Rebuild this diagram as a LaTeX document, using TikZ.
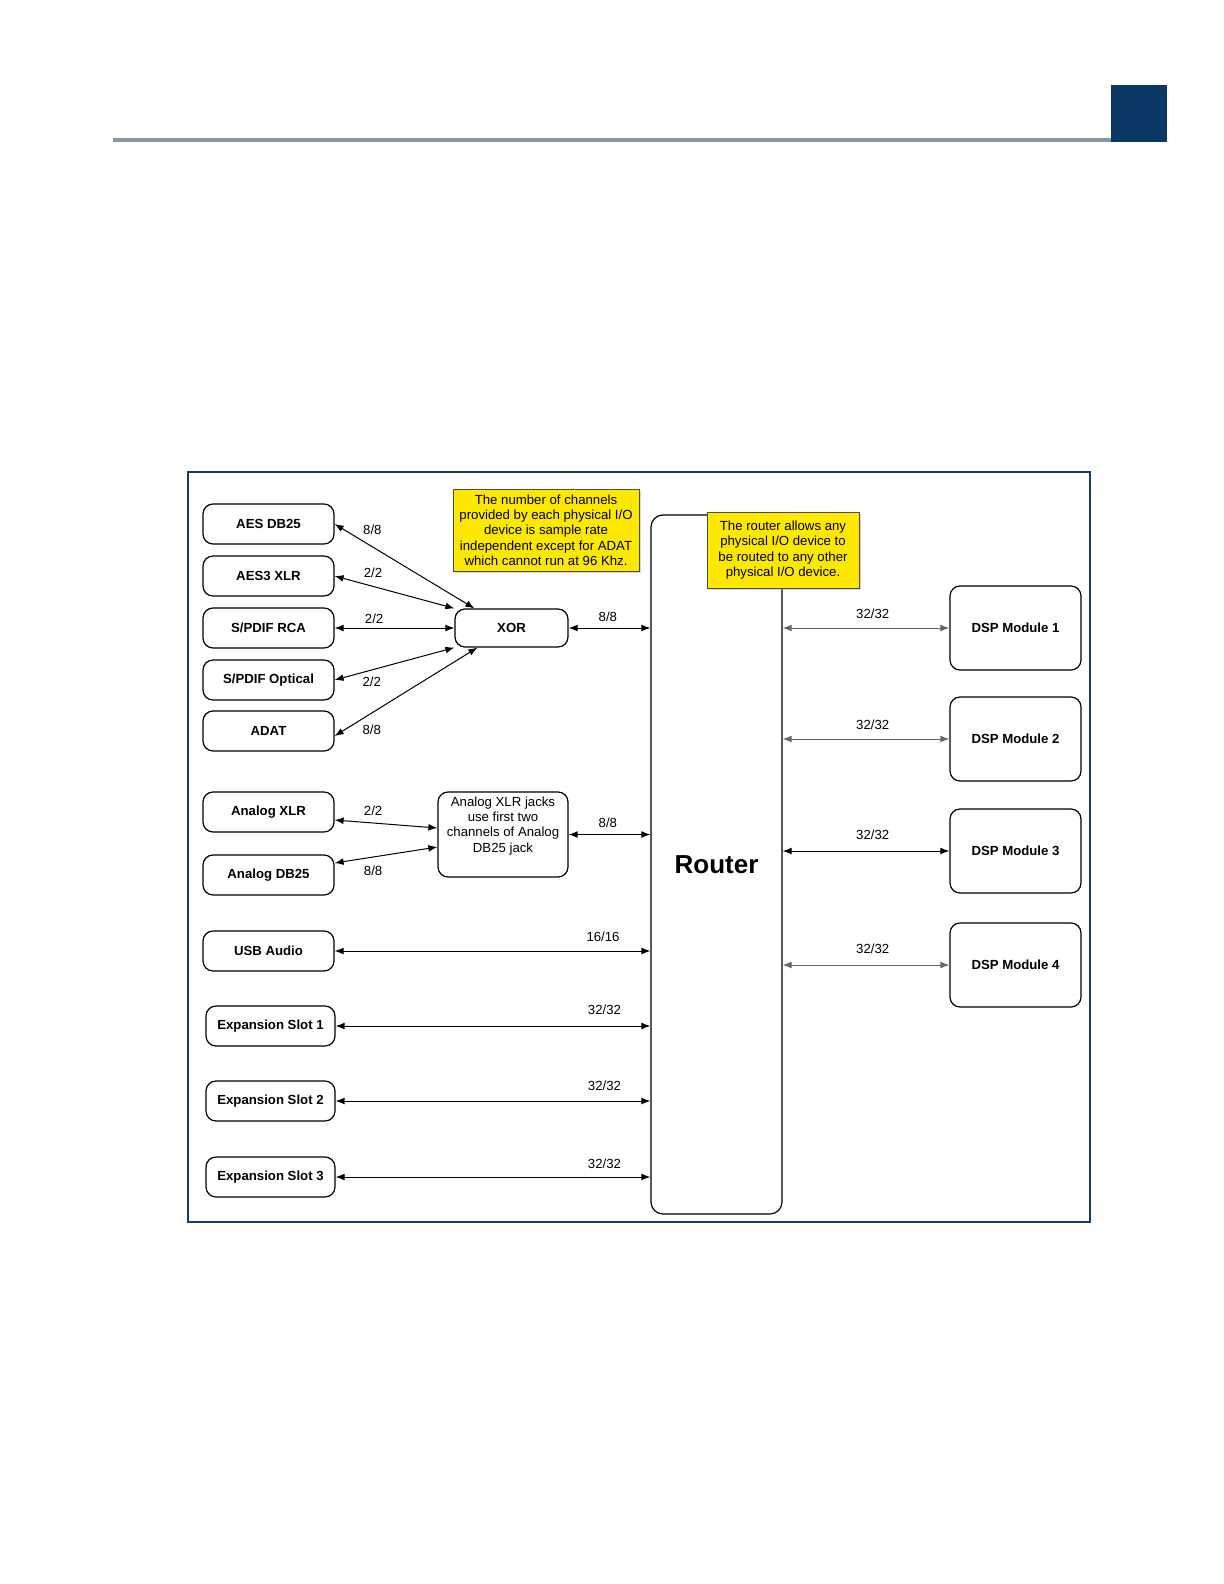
\documentclass[tikz,border=0pt]{standalone}
\usepackage{fontspec}
\setmainfont{Liberation Sans}
\usepackage{tikz}
\usetikzlibrary{arrows.meta,positioning,calc,shadows}
\definecolor{noteyellow}{RGB}{255,232,0}
\definecolor{framenavy}{RGB}{24,60,100}
\definecolor{headnavy}{RGB}{10,55,100}
\definecolor{headgray}{RGB}{128,152,172}

\begin{document}
\begin{tikzpicture}[
  x=0.5pt, y=-0.5pt,
  dev/.style={draw, line width=0.6pt, rounded corners=5pt, minimum width=65.5pt, minimum height=20pt, inner sep=0pt, align=center, font=\fontsize{6.6}{7.6}\selectfont\bfseries},
  dsp/.style={dev, minimum height=42pt},
  note/.style={draw=black!70, fill=noteyellow, inner sep=0pt, align=center, font=\fontsize{6.6}{7.65}\selectfont, drop shadow={shadow xshift=1.2pt, shadow yshift=-1.2pt, opacity=0.3}},
  link/.style={{Latex[length=4.5pt,width=3.4pt]}-{Latex[length=4.5pt,width=3.4pt]}, line width=0.5pt},
  faint/.style={draw=black!60},
  lbl/.style={font=\fontsize{6.6}{7.6}\selectfont, inner sep=0pt},
]
  \useasboundingbox (0,0) rectangle (1224,1584);

  % page header
  \fill[headgray] (113,138) rectangle (1111,142);
  \fill[headnavy] (1111,85) rectangle (1167,142);

  % figure frame
  \draw[framenavy, line width=1pt] (188,472) rectangle (1090,1222);

  % physical I/O devices
  \node[dev] (aesdb) at (268.5,524) {AES DB25};
  \node[dev] (aesxlr) at (268.5,576) {AES3 XLR};
  \node[dev] (spdifrca) at (268.5,628) {S/PDIF RCA};
  \node[dev] (spdifopt) at (268.5,680) {S/PDIF Optical};
  \node[dev] (adat) at (268.5,731) {ADAT};
  \node[dev] (anxlr) at (268.5,812) {Analog XLR};
  \node[dev] (andb) at (268.5,875) {Analog DB25};
  \node[dev] (usb) at (268.5,951) {USB Audio};
  \node[dev, minimum width=64.5pt] (slot1) at (270.5,1026) {Expansion Slot 1};
  \node[dev, minimum width=64.5pt] (slot2) at (270.5,1101) {Expansion Slot 2};
  \node[dev, minimum width=64.5pt] (slot3) at (270.5,1177) {Expansion Slot 3};

  \node[dev, minimum width=56.5pt, minimum height=19pt] (xor) at (511.5,628) {XOR};
  \node[dev, font=\fontsize{6.6}{7.6}\selectfont, minimum width=65pt, minimum height=42.5pt, text depth=10pt] (anjack) at (503,834.5) {Analog XLR jacks\\use first two\\channels of Analog\\DB25 jack};

  \node[dev, rounded corners=6pt, minimum width=65.5pt, minimum height=349.5pt, font=\fontsize{13}{15}\selectfont\bfseries] (router) at (716.5,864.5) {Router};

  \node[dsp] (dsp1) at (1015.5,628) {DSP Module 1};
  \node[dsp] (dsp2) at (1015.5,739) {DSP Module 2};
  \node[dsp] (dsp3) at (1015.5,851) {DSP Module 3};
  \node[dsp] (dsp4) at (1015.5,965) {DSP Module 4};

  % notes
  \node[note, minimum width=93pt, minimum height=41pt] (chnote) at (546,530) {The number of channels\\provided by each physical I/O\\device is sample rate\\independent except for ADAT\\which cannot run at 96 Khz.};
  \node[note, minimum width=76pt, minimum height=38pt] (rtnote) at (783,550) {The router allows any\\physical I/O device to\\be routed to any other\\physical I/O device.};

  % digital inputs into XOR
  \draw[link] (aesdb.east) -- ([xshift=10pt]xor.north west) node[lbl, pos=0.27, yshift=8.5pt] (aesdbch) {8/8};
  \draw[link] (aesxlr.east) -- (xor.north west) node[lbl, pos=0.32, yshift=6.8pt] (aesxlrch) {2/2};
  \draw[link] (spdifrca) -- (xor) node[lbl, pos=0.33, yshift=4.5pt] (spdifrcach) {2/2};
  \draw[link] (spdifopt.east) -- (xor.south west) node[lbl, pos=0.31, yshift=-6pt] (spdifoptch) {2/2};
  \draw[link] ([yshift=-2.5pt]adat.east) -- ([xshift=11.5pt]xor.south west) node[lbl, pos=0.26, yshift=-8.5pt] (adatch) {8/8};
  \draw[link] (xor) -- (xor -| router.west) node[lbl, pos=0.48, yshift=5.5pt] (xorch) {8/8};

  % analog inputs
  \draw[link] ([yshift=-4pt]anxlr.east) -- ([yshift=3.25pt]anjack.west) node[lbl, pos=0.375, yshift=6pt] (anxlrch) {2/2};
  \draw[link] ([yshift=6pt]andb.east) -- ([yshift=-6.25pt]anjack.west) node[lbl, pos=0.375, yshift=-7pt] (andbch) {8/8};
  \draw[link] (anjack) -- (anjack -| router.west) node[lbl, pos=0.48, yshift=6pt] (anjackch) {8/8};

  % direct inputs
  \draw[link] (usb) -- (usb -| router.west) node[lbl, pos=0.85, yshift=7pt] (usbch) {16/16};
  \draw[link] (slot1) -- (slot1 -| router.west) node[lbl, pos=0.854, yshift=8pt] (slot1ch) {32/32};
  \draw[link] (slot2) -- (slot2 -| router.west) node[lbl, pos=0.854, yshift=7.5pt] (slot2ch) {32/32};
  \draw[link] (slot3) -- (slot3 -| router.west) node[lbl, pos=0.854, yshift=6.5pt] (slot3ch) {32/32};

  % DSP modules
  \draw[link, faint] (dsp1 -| router.east) -- (dsp1) node[lbl, pos=0.54, yshift=7pt] (dsp1ch) {32/32};
  \draw[link, faint] (dsp2 -| router.east) -- (dsp2) node[lbl, pos=0.54, yshift=7pt] (dsp2ch) {32/32};
  \draw[link] (dsp3 -| router.east) -- (dsp3) node[lbl, pos=0.54, yshift=8pt] (dsp3ch) {32/32};
  \draw[link, faint] (dsp4 -| router.east) -- (dsp4) node[lbl, pos=0.54, yshift=8pt] (dsp4ch) {32/32};
\end{tikzpicture}
\end{document}
